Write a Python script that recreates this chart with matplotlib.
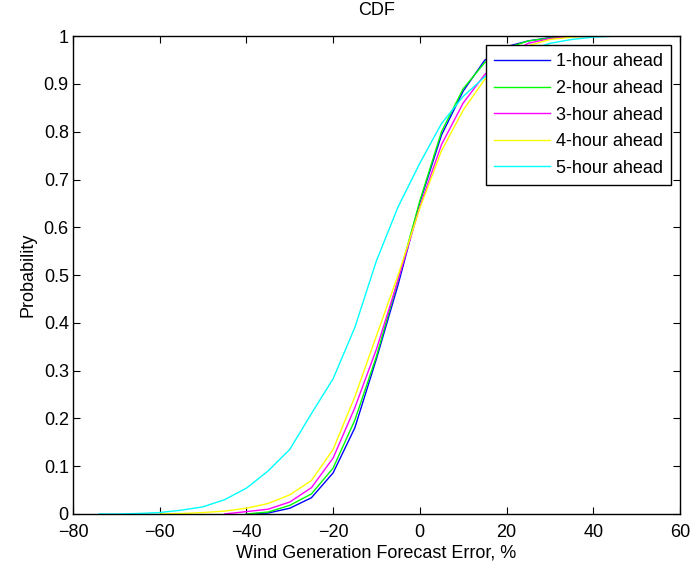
import numpy as np
import matplotlib
matplotlib.use('Agg')
import matplotlib.pyplot as plt

plt.rcParams['font.family'] = ['Liberation Sans', 'DejaVu Sans']

# error grid (%)
err = [-74, -70, -65, -60, -55, -50, -45, -40, -35, -30, -25, -20, -15, -10,
       -5, 0, 5, 10, 15, 20, 25, 30, 35, 40, 45, 50, 55, 60]
nan = np.nan

p1 = [nan, nan, nan, nan, nan, nan, nan, 0.0, 0.002, 0.012, 0.034, 0.086, 0.18, 0.325,
      0.48, 0.652, 0.793, 0.885, 0.95, 0.978, 0.99, 0.997, 1.0, nan, nan, nan, nan, nan]
p2 = [nan, nan, nan, nan, nan, nan, nan, 0.0, 0.004, 0.018, 0.042, 0.096, 0.196, 0.33,
      0.49, 0.655, 0.80, 0.89, 0.945, 0.975, 0.99, 0.996, 1.0, nan, nan, nan, nan, nan]
p3 = [nan, nan, nan, nan, nan, nan, 0.0, 0.005, 0.01, 0.025, 0.055, 0.117, 0.222, 0.345,
      0.49, 0.643, 0.773, 0.86, 0.92, 0.96, 0.985, 0.995, 0.999, 1.0, nan, nan, nan, nan]
p4 = [nan, nan, nan, 0.0, 0.001, 0.003, 0.006, 0.012, 0.022, 0.04, 0.07, 0.135, 0.245, 0.373,
      0.50, 0.64, 0.76, 0.845, 0.91, 0.955, 0.98, 0.993, 0.998, 1.0, 1.0, 1.0, 1.0, 1.0]
p5 = [0.0, 0.0, 0.001, 0.003, 0.008, 0.015, 0.03, 0.054, 0.09, 0.135, 0.21, 0.283, 0.39, 0.53,
      0.643, 0.734, 0.817, 0.874, 0.915, 0.945, 0.97, 0.985, 0.993, 0.998, 1.0, nan, nan, nan]

labels = ['1-hour ahead', '2-hour ahead', '3-hour ahead', '4-hour ahead', '5-hour ahead']
colors = ['#0000ff', '#00ff00', '#ff00ff', '#ffff00', '#00ffff']

fig = plt.figure(figsize=(6.91, 5.65), dpi=100)
ax = fig.add_axes([0.1056, 0.0903, 0.8784, 0.8457])

for p, lab, c in zip([p1, p2, p3, p4, p5], labels, colors):
    ax.plot(err, p, color=c, lw=1.0, label=lab)

ax.set_xlim(-80, 60)
ax.set_ylim(0, 1)
ax.set_xticks(np.arange(-80, 61, 20))
ax.set_yticks(np.arange(0, 1.01, 0.1))
ax.set_yticklabels(['0', '0.1', '0.2', '0.3', '0.4', '0.5', '0.6', '0.7', '0.8', '0.9', '1'])
ax.tick_params(direction='in', top=True, right=True, length=5, width=0.8, labelsize=13)
ax.tick_params(axis='x', pad=7)
ax.tick_params(axis='y', pad=3)
for s in ax.spines.values():
    s.set_linewidth(1.0)

ax.set_title('CDF', fontsize=13, pad=15)
ax.set_xlabel('Wind Generation Forecast Error, %', fontsize=13, labelpad=3)
ax.set_ylabel('Probability', fontsize=13, labelpad=5)

leg = ax.legend(loc='upper right', bbox_to_anchor=(0.985, 0.981), borderaxespad=0,
                fontsize=13, handlelength=3.1, labelspacing=0.53, handletextpad=0.3,
                fancybox=False, framealpha=1, edgecolor='black', borderpad=0.45)
leg.get_frame().set_linewidth(1.0)

fig.savefig('out.png', dpi=100)
